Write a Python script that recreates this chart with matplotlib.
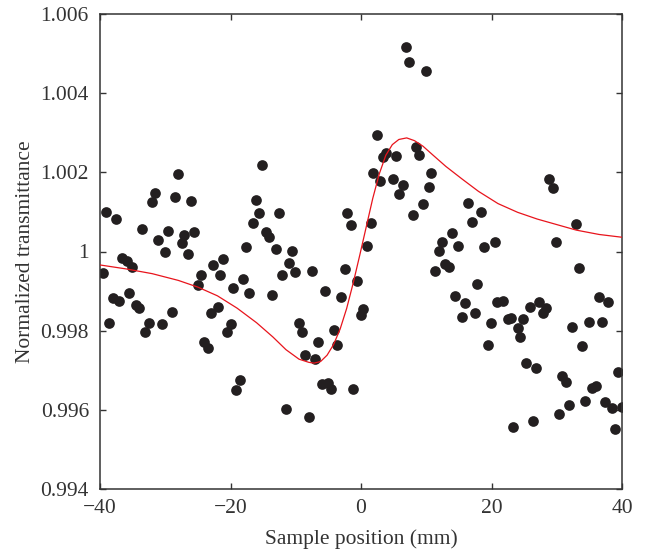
import matplotlib
matplotlib.use("Agg")
import matplotlib.pyplot as plt

# measured z-scan points (mm, normalized transmittance)
pos = [
    -39.49, -39.08, -38.62, -37.96, -37.55, -37.04, -36.58, -35.91, -35.56, -35.05,
    -34.53, -33.98, -33.52, -33.10, -32.49, -32.08, -31.57, -31.07, -30.54, -30.04,
    -29.62, -29.01, -28.51, -28.09, -27.48, -27.08, -26.47, -26.05, -25.55, -25.03,
    -24.57, -24.02, -23.49, -23.03, -22.64, -21.96, -21.56, -21.10, -20.58, -19.97,
    -19.57, -19.11, -18.54, -18.04, -17.62, -17.16, -16.51, -16.09, -15.63, -15.22,
    -14.61, -14.05, -13.64, -13.03, -12.57, -12.15, -11.49, -11.03, -10.62, -10.11,
    -9.50, -9.09, -8.58, -8.02, -7.56, -7.05, -6.64, -6.02, -5.56, -5.01,
    -4.64, -4.09, -3.63, -3.11, -2.50, -2.10, -1.58, -1.18, -0.57, -0.05,
    0.35, 0.97, 1.49, 1.89, 2.41, 2.91, 3.42, 3.83, 4.90, 5.36,
    5.87, 6.48, 6.90, 7.36, 8.02, 8.43, 8.92, 9.43, 9.96, 10.42,
    10.73, 11.34, 11.95, 12.37, 12.87, 13.53, 13.90, 14.41, 14.82, 15.43,
    15.94, 16.44, 16.97, 17.47, 17.82, 18.34, 18.90, 19.42, 19.88, 20.54,
    20.89, 21.72, 22.48, 22.94, 23.34, 24.02, 24.37, 24.87, 25.29, 25.90,
    26.41, 26.82, 27.33, 27.94, 28.35, 28.86, 29.47, 29.89, 30.39, 30.76,
    31.42, 31.92, 32.29, 32.90, 33.46, 33.82, 34.33, 34.99, 35.45, 35.97,
    36.48, 36.89, 37.39, 37.90, 38.42, 38.93, 39.34, 39.95,
]
trans = [
    0.99946, 1.00100, 0.99819, 0.99882, 1.00082, 0.99876, 0.99983, 0.99977, 0.99896, 0.99960,
    0.99865, 0.99857, 1.00057, 0.99796, 0.99819, 1.00126, 1.00148, 1.00029, 0.99817, 0.99999,
    1.00053, 0.99848, 1.00138, 1.00197, 1.00021, 1.00042, 0.99994, 1.00128, 1.00050, 0.99915,
    0.99941, 0.99771, 0.99756, 0.99845, 0.99966, 0.99859, 0.99941, 0.99982, 0.99796, 0.99817,
    0.99907, 0.99650, 0.99676, 0.99930, 1.00012, 0.99896, 1.00071, 1.00130, 1.00098, 1.00218,
    1.00050, 1.00037, 0.99889, 1.00006, 1.00098, 0.99941, 0.99601, 0.99970, 1.00002, 0.99949,
    0.99820, 0.99797, 0.99739, 0.99581, 0.99952, 0.99729, 0.99771, 0.99665, 0.99901, 0.99667,
    0.99653, 0.99802, 0.99764, 0.99884, 0.99957, 1.00098, 1.00067, 0.99652, 0.99926, 0.99840,
    0.99854, 1.00014, 1.00073, 1.00199, 1.00294, 1.00178, 1.00239, 1.00249, 1.00182, 1.00241,
    1.00145, 1.00168, 1.00516, 1.00479, 1.00092, 1.00265, 1.00244, 1.00120, 1.00457, 1.00162,
    1.00199, 0.99952, 1.00002, 1.00025, 0.99968, 0.99962, 1.00047, 0.99888, 1.00014, 0.99834,
    0.99869, 1.00123, 1.00075, 0.99844, 0.99917, 1.00100, 1.00012, 0.99764, 0.99820, 1.00025,
    0.99873, 0.99876, 0.99829, 0.99833, 0.99556, 0.99808, 0.99783, 0.99829, 0.99718, 0.99859,
    0.99573, 0.99705, 0.99873, 0.99844, 0.99857, 1.00182, 1.00160, 1.00025, 0.99589, 0.99686,
    0.99671, 0.99611, 0.99809, 1.00069, 0.99958, 0.99761, 0.99623, 0.99823, 0.99655, 0.99660,
    0.99886, 0.99823, 0.99621, 0.99872, 0.99604, 0.99551, 0.99696, 0.99608,
]

# fitted curve
fit_pos = [
    -40.0, -36.0, -32.0, -28.0, -25.0, -22.0, -19.0, -16.0, -13.5, -11.5,
    -9.5, -8.0, -7.2, -6.2, -5.2, -4.2, -3.2, -2.2, -1.2, -0.2,
    0.8, 1.8, 2.8, 3.8, 4.8, 5.8, 7.0, 8.2, 9.5, 11.0,
    13.0, 15.5, 18.0, 21.0, 24.0, 27.0, 30.0, 33.0, 36.5, 40.0,
]
fit_trans = [
    0.99966, 0.99956, 0.99944, 0.99927, 0.99910, 0.99888, 0.99857, 0.99820, 0.99784, 0.99752,
    0.99728, 0.99720, 0.99718, 0.99722, 0.99738, 0.99765, 0.99804, 0.99856, 0.99920, 0.99990,
    1.00062, 1.00134, 1.00196, 1.00243, 1.00270, 1.00283, 1.00287, 1.00280, 1.00266, 1.00244,
    1.00215, 1.00183, 1.00152, 1.00121, 1.00099, 1.00082, 1.00068, 1.00054, 1.00043, 1.00036,
]

xticks = [-40, -20, 0, 20, 40]
yticks = [0.994, 0.996, 0.998, 1.0, 1.002, 1.004, 1.006]
ytick_labels = ["0.994", "0.996", "0.998", "1", "1.002", "1.004", "1.006"]

plt.rcParams["font.family"] = ["Liberation Serif", "DejaVu Serif"]
plt.rcParams["font.size"] = 15.5

fig = plt.figure(figsize=(6.45, 5.52), dpi=100)
ax = fig.add_axes([100 / 645, 63 / 552, 522 / 645, 475 / 552])

ax.plot(pos, trans, "o", color="#231f20", markersize=7.7, markeredgewidth=0, zorder=2)
ax.plot(fit_pos, fit_trans, "-", color="#e8141c", linewidth=0.9, zorder=3)

ax.set_xlim(-40, 40)
ax.set_ylim(0.994, 1.006)
ax.set_xticks(xticks)
ax.set_yticks(yticks)
ax.set_yticklabels(ytick_labels)

ax.tick_params(direction="in", length=4, width=1, top=True, right=True,
               color="#333333", labelcolor="#333333")
ax.tick_params(axis="y", pad=8)
ax.tick_params(axis="x", pad=7)
for sp in ax.spines.values():
    sp.set_linewidth(1.1)
    sp.set_color("#333333")

ax.set_xlabel("Sample position (mm)", color="#333333", labelpad=8)
ax.set_ylabel("Normalized transmittance", color="#333333", labelpad=4)

fig.savefig("out.png", dpi=100)
